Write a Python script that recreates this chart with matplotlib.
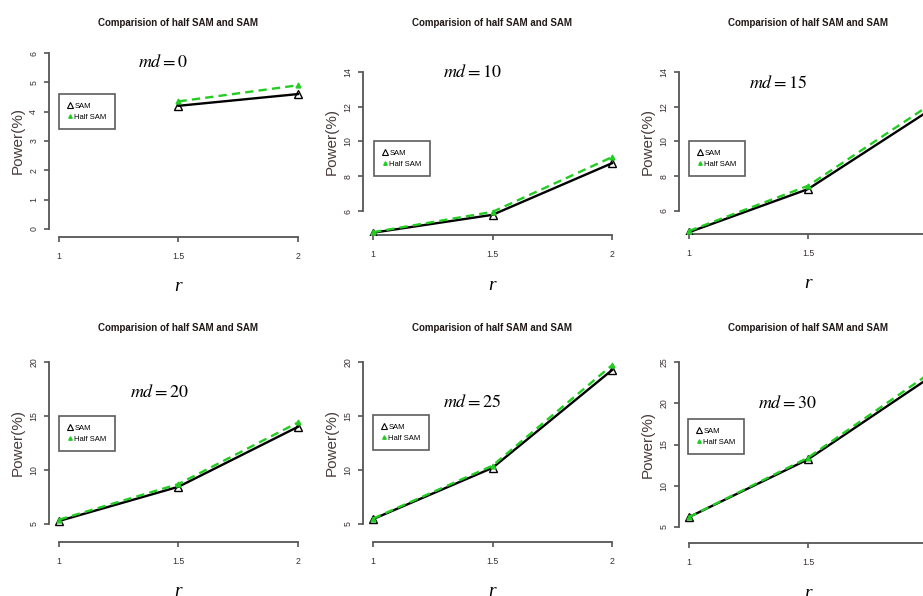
import numpy as np
import matplotlib.pyplot as plt
from matplotlib.lines import Line2D

# data
r = [1, 1.5, 2]
md_values = [0, 10, 15, 20, 25, 30]
sam = [
    [np.nan, 4.2, 4.6],
    [4.75, 5.78, 8.75],
    [4.78, 7.26, 11.7],
    [5.28, 8.45, 14.0],
    [5.45, 10.2, 19.25],
    [6.2, 13.2, 22.9],
]
half_sam = [
    [np.nan, 4.35, 4.9],
    [4.78, 5.95, 9.1],
    [4.85, 7.45, 12.0],
    [5.4, 8.7, 14.4],
    [5.5, 10.4, 19.7],
    [6.2, 13.4, 23.4],
]
y_ticks = [
    [0, 1, 2, 3, 4, 5, 6],
    [6, 8, 10, 12, 14],
    [6, 8, 10, 12, 14],
    [5, 10, 15, 20],
    [5, 10, 15, 20],
    [5, 10, 15, 20, 25],
]
x_ticks = [1, 1.5, 2]
x_tick_labels = ['1', '1.5', '2']
title = 'Comparision of half SAM and SAM'

sans = ['Liberation Sans', 'DejaVu Sans']

W, H = 923, 596
fig = plt.figure(figsize=(W / 100, H / 100), dpi=100)

# pixel layout: x of r=1, x of r=2, px of lowest tick, px of top tick, x-axis line
layout = [
    (59, 298, 229, 53, 237),
    (373, 612, 211, 72, 235),
    (689, 927, 211, 72, 234),
    (59, 298, 524, 362, 542),
    (373, 612, 524, 362, 542),
    (689, 927, 527, 362, 543),
]
md_pos = [(163, 62), (473, 72), (778, 83), (160, 392), (472, 402), (788, 403)]
legend_pos = [(59, 94), (374, 141), (689, 141), (59, 416), (373, 415), (688, 419)]

def fx(x):
    return x / W

def fy(y):
    return 1 - y / H

grey = '#555555'
green = '#22cc22'

for i in range(6):
    x1, x2, tlo_px, thi_px, base_px = layout[i]
    ticks = y_ticks[i]
    tlo, thi = ticks[0], ticks[-1]
    per = (tlo_px - thi_px) / (thi - tlo)
    pad = base_px - tlo_px
    top_px = thi_px - pad
    ylo = tlo - pad / per
    yhi = thi + pad / per
    xl = x1 - 0.04 * (x2 - x1)
    xr = x2 + 0.04 * (x2 - x1)

    ax = fig.add_axes([fx(xl), fy(base_px), (xr - xl) / W, (base_px - top_px) / H])
    ax.set_xlim(0.96, 2.04)
    ax.set_ylim(ylo, yhi)
    ax.patch.set_alpha(0)

    ax.plot(r, sam[i], color='black', lw=1.7, marker='^', ms=5.5,
            mfc='none', mec='black', mew=1.0, zorder=3)
    ax.plot(r, half_sam[i], color=green, lw=1.7, ls=(0, (3.5, 2.2)), marker='^',
            ms=3.5, mfc=green, mec=green, zorder=4)

    for s in ['top', 'right']:
        ax.spines[s].set_visible(False)
    for s in ['left', 'bottom']:
        ax.spines[s].set_color(grey)
        ax.spines[s].set_linewidth(1.3)
    ax.spines['left'].set_bounds(tlo, thi)
    ax.spines['bottom'].set_bounds(1, 2)

    ax.set_xticks(x_ticks)
    ax.set_xticklabels(x_tick_labels, family=sans)
    ax.set_yticks(ticks)
    ax.set_yticklabels([str(t) for t in ticks], rotation=90, va='center', family=sans)
    ax.tick_params(axis='both', colors=grey, length=3.6, width=1.2,
                   labelsize=6.3, labelcolor='#3a3030')
    ax.tick_params(axis='x', pad=7)
    ax.tick_params(axis='y', pad=4.5)

    cx = (xl + xr) / 2
    row_top = 0 if i < 3 else 300
    fig.text(fx(cx), fy(row_top + 23 + (5 if i >= 3 else 0)), title, ha='center', va='center',
             fontsize=7, fontweight='bold', color='#221818', family=sans)

    fig.text(fx(xl - 32), fy((tlo_px + thi_px) / 2), 'Power(%)', rotation=90,
             ha='center', va='center', fontsize=11, color='#4a3c3c', family=sans)

    fig.text(fx(cx), fy(base_px + 50), 'r', ha='center', va='center',
             fontsize=14, style='italic', family=['Liberation Serif', 'DejaVu Serif'])

    mx, my = md_pos[i]
    fig.text(fx(mx), fy(my), r'$\mathit{md} = %d$' % md_values[i], ha='center', va='center',
             fontsize=13, math_fontfamily='stix')

    handles = [
        Line2D([], [], ls='none', marker='^', ms=4, mfc='none', mec='black', mew=0.8),
        Line2D([], [], ls='none', marker='^', ms=2.5, mfc=green, mec=green),
    ]
    lx, ly = legend_pos[i]
    leg = ax.legend(handles, ['SAM', 'Half SAM'], loc='upper left',
                    bbox_to_anchor=(fx(lx), fy(ly)), bbox_transform=fig.transFigure,
                    fontsize=5.5, frameon=True, fancybox=False, handlelength=0.6,
                    handletextpad=0.3, borderpad=1.1, labelspacing=0.45,
                    borderaxespad=0)
    leg.get_frame().set_edgecolor('#333333')
    leg.get_frame().set_linewidth(1.2)
    for t in leg.get_texts():
        t.set_family(sans)

fig.savefig('out.png', dpi=100)
